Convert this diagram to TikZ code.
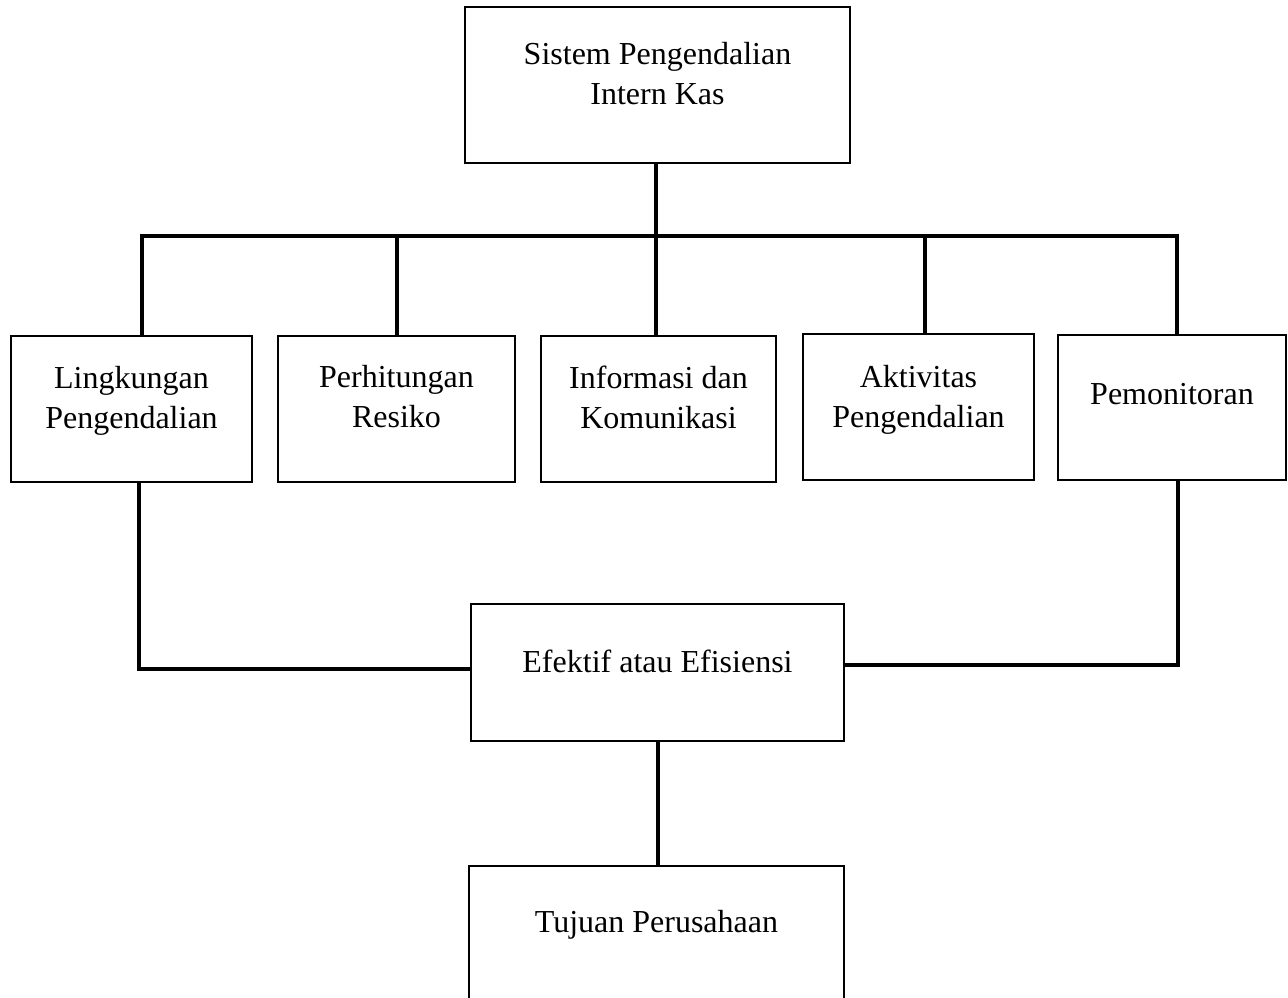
\documentclass[tikz,border=0pt]{standalone}
\usepackage{fontspec}
\setmainfont{Liberation Serif}
\begin{document}
\begin{tikzpicture}[x=1pt,y=-1pt,
  box/.style={draw, line width=2.8pt, inner sep=0pt},
  lbl/.style={align=center, inner sep=0pt, font=\fontsize{32}{40}\selectfont},
  wire/.style={line width=4pt}]
\clip (0,0) rectangle (1288,998);
\fill[white] (0,0) rectangle (1288,998);

% boxes
\node[box, minimum width=385, minimum height=156] (top) at (657.5,85) {};
\node[box, minimum width=241, minimum height=146] (L) at (131.5,409) {};
\node[box, minimum width=237, minimum height=146] (P) at (396.5,409) {};
\node[box, minimum width=235, minimum height=146] (I) at (658.5,409) {};
\node[box, minimum width=231, minimum height=146] (A) at (918.5,407) {};
\node[box, minimum width=228, minimum height=145] (M) at (1172,407.5) {};
\node[box, minimum width=373, minimum height=137] (E) at (657.5,672.5) {};
\node[box, minimum width=375, minimum height=144] (T) at (656.5,938) {};

% labels
\node[lbl] (topt) at ([yshift=11]top.center) {Sistem Pengendalian\\Intern Kas};
\node[lbl] (Lt) at ([yshift=8.5]L.center) {Lingkungan\\Pengendalian};
\node[lbl] (Pt) at ([yshift=12]P.center) {Perhitungan\\Resiko};
\node[lbl] (It) at ([yshift=12]I.center) {Informasi dan\\Komunikasi};
\node[lbl] (At) at ([yshift=7.5]A.center) {Aktivitas\\Pengendalian};
\node[lbl] (Mt) at ([yshift=13]M.center) {Pemonitoran};
\node[lbl] (Et) at ([yshift=11.5]E.center) {Efektif atau Efisiensi};
\node[lbl] (Tt) at ([yshift=13.5]T.center) {Tujuan Perusahaan};

% bus taps
\coordinate (b1) at (142,236);
\coordinate (b2) at (397,236);
\coordinate (b3) at (656,236);
\coordinate (b4) at (925,236);
\coordinate (b5) at (1177,236);
\coordinate (lc) at (139,669);
\coordinate (rc) at (1178,665);

% connectors
\draw[wire] (top.south -| b3) -- (b3 |- I.north);
\draw[wire] (b1 |- L.north) -- (b1) -- (b5) -- (b5 |- M.north);
\draw[wire] (b2) -- (b2 |- P.north);
\draw[wire] (b4) -- (b4 |- A.north);
\draw[wire] (L.south -| lc) -- (lc) -- (lc -| E.west);
\draw[wire] (M.south -| rc) -- (rc) -- (rc -| E.east);
\draw[wire] (E.south) -- (E.south |- T.north);
\end{tikzpicture}
\end{document}
